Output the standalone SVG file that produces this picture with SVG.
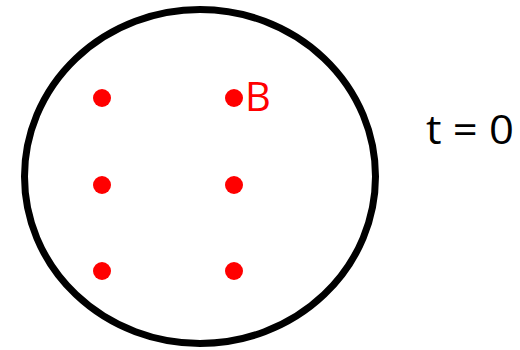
<svg xmlns="http://www.w3.org/2000/svg" width="520" height="350" viewBox="0 0 520 350">
<style>
.dot{fill:#ff0000}
.lbl{font-family:"Open Sans","Liberation Sans",sans-serif;font-size:40px}
</style>
<rect width="520" height="350" fill="#ffffff"/>
<g id="boundary">
<ellipse cx="200" cy="176.5" rx="175.5" ry="167" fill="none" stroke="#000" stroke-width="7"/>
</g>
<g id="points">
<circle class="dot" cx="102" cy="98" r="9"/>
<circle class="dot" cx="234" cy="98" r="9"/>
<circle class="dot" cx="102" cy="185" r="9"/>
<circle class="dot" cx="234" cy="185" r="9"/>
<circle class="dot" cx="102" cy="271" r="9"/>
<circle class="dot" cx="234" cy="271" r="9"/>
</g>
<g id="labelB">
<text class="lbl" x="245" y="111" fill="#ff0000">B</text>
</g>
<g id="time">
<text class="lbl" x="426" y="144" fill="#000" textLength="88" lengthAdjust="spacingAndGlyphs">t = 0</text>
</g>
</svg>
